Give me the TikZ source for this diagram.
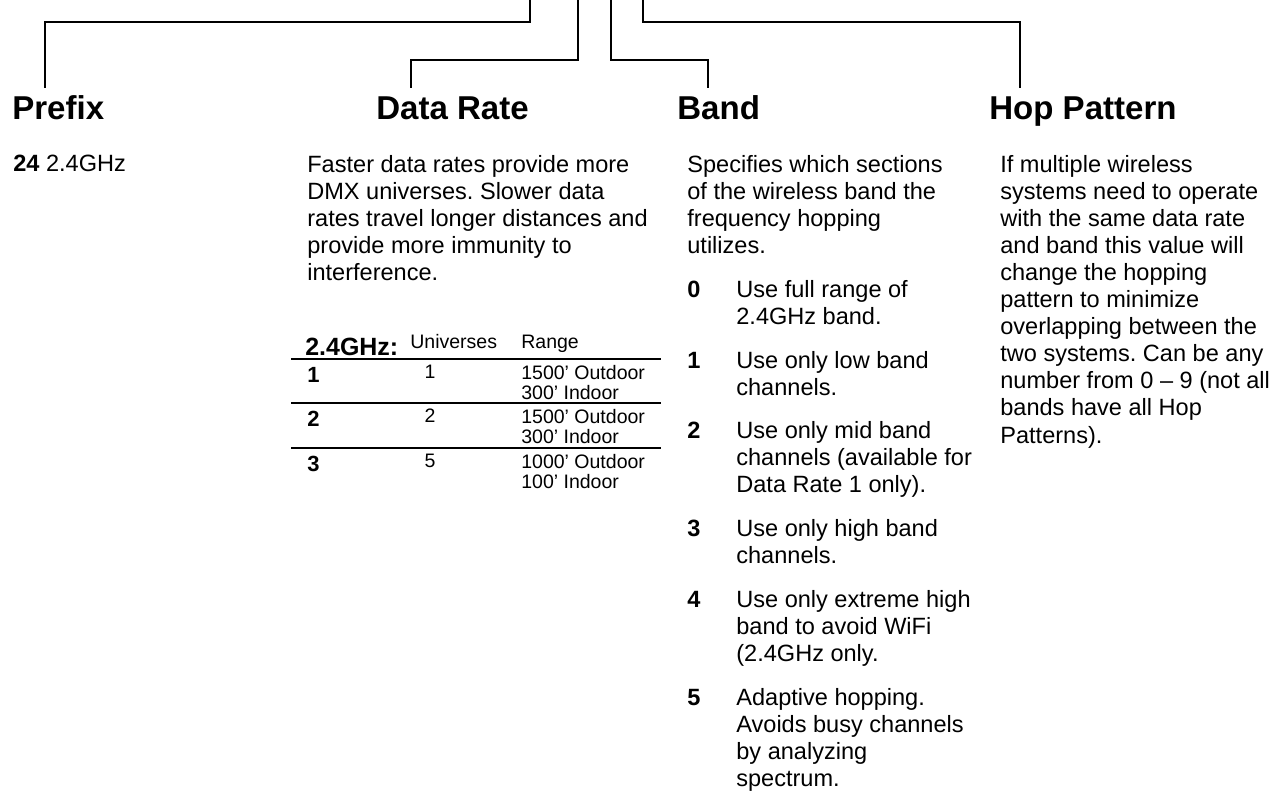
\documentclass[tikz,border=0pt]{standalone}
\usepackage{fontspec}
\setmainfont{Liberation Sans}
\usepackage{tikz}
\usetikzlibrary{positioning}
\frenchspacing

\begin{document}
\begin{tikzpicture}[
        lead/.style  = {line width=0.8pt},
        rule/.style  = {line width=1.0pt},
        title/.style = {anchor=base west, inner sep=0pt, font=\fontsize{18.8}{22}\selectfont\bfseries},
        body/.style  = {anchor=north west, inner sep=0pt, align=left, font=\fontsize{13.4}{15.4}\selectfont},
        num/.style   = {anchor=north west, inner sep=0pt, font=\fontsize{13.4}{15.4}\selectfont\bfseries},
        cell/.style  = {anchor=north west, inner sep=0pt, align=left, font=\fontsize{11.1}{11.4}\selectfont},
        small/.style = {anchor=base, inner sep=0pt, font=\fontsize{11.1}{11.4}\selectfont},
        rownum/.style= {anchor=base west, inner sep=0pt, font=\fontsize{12.5}{14}\selectfont\bfseries}
    ]
            \useasboundingbox (0.00, 0.00) rectangle (25.76,-15.92);

            % headings
            \node[title] (prefix)   at ( 0.24,-2.38) {Prefix};
            \node[title] (datarate) at ( 7.52,-2.38) {Data Rate};
            \node[title] (band)     at (13.54,-2.38) {Band};
            \node[title] (hop)      at (19.78,-2.38) {Hop Pattern};

            % leader lines from the part number
            \coordinate (prefix top)   at (10.60, 0.00);
            \coordinate (prefix foot)  at ( 0.90,-1.76);
            \coordinate (rate top)     at (11.56, 0.00);
            \coordinate (rate foot)    at ( 8.22,-1.76);
            \coordinate (band top)     at (12.22, 0.00);
            \coordinate (band foot)    at (14.16,-1.76);
            \coordinate (hop top)      at (12.86, 0.00);
            \coordinate (hop foot)     at (20.40,-1.76);
            \draw[lead] (prefix top) -- ++(0,-0.44) -| (prefix foot);
            \draw[lead] (rate top)   -- ++(0,-1.20) -| (rate foot);
            \draw[lead] (band top)   -- ++(0,-1.20) -| (band foot);
            \draw[lead] (hop top)    -- ++(0,-0.44) -| (hop foot);

            % column texts
            \node[body] (prefix text) at ( 0.26,-3.10) {\textbf{24} 2.4GHz};
            \node[body] (rate text)   at ( 6.14,-3.10) {Faster data rates provide more\\DMX universes. Slower data\\rates travel longer distances and\\provide more immunity to\\interference.};
            \node[body] (band text)   at (13.74,-3.10) {Specifies which sections\\of the wireless band the\\frequency hopping\\utilizes.};
            \node[body] (hop text)    at (20.00,-3.10) {If multiple wireless\\systems need to operate\\with the same data rate\\and band this value will\\change the hopping\\pattern to minimize\\overlapping between the\\two systems. Can be any\\number from 0 -- 9 (not all\\bands have all Hop\\Patterns).};

            % band values
            \node[num]  (b0)  at (13.74, -5.62) {0};
            \node[body] (b0t) at (14.72, -5.60) {Use full range of\\2.4GHz band.};
            \node[num]  (b1)  at (13.74, -7.04) {1};
            \node[body] (b1t) at (14.72, -7.02) {Use only low band\\channels.};
            \node[num]  (b2)  at (13.74, -8.44) {2};
            \node[body] (b2t) at (14.72, -8.42) {Use only mid band\\channels (available for\\Data Rate 1 only).};
            \node[num]  (b3)  at (13.74,-10.40) {3};
            \node[body] (b3t) at (14.72,-10.38) {Use only high band\\channels.};
            \node[num]  (b4)  at (13.74,-11.82) {4};
            \node[body] (b4t) at (14.72,-11.80) {Use only extreme high\\band to avoid WiFi\\(2.4GHz only.};
            \node[num]  (b5)  at (13.74,-13.78) {5};
            \node[body] (b5t) at (14.72,-13.76) {Adaptive hopping.\\Avoids busy channels\\by analyzing\\spectrum.};

            % data rate table
            \node[anchor=base west, inner sep=0pt, font=\fontsize{14.2}{16}\selectfont\bfseries] (ghz) at ( 6.10,-7.10) {2.4GHz:};
            \node[small, anchor=base west] (univ)  at ( 8.20,-6.96) {Universes};
            \node[small, anchor=base west] (range) at (10.42,-6.96) {Range};
            \draw[rule] ( 5.82,-7.18) -- (13.22,-7.18);
            \node[rownum] (r1)  at ( 6.14,-7.65) {1};
            \node[small]  (u1)  at ( 8.60,-7.57) {1};
            \node[cell]   (g1)  at (10.42,-7.29) {1500' Outdoor\\300' Indoor};
            \draw[rule] ( 5.82,-8.06) -- (13.22,-8.06);
            \node[rownum] (r2)  at ( 6.14,-8.53) {2};
            \node[small]  (u2)  at ( 8.60,-8.45) {2};
            \node[cell]   (g2)  at (10.42,-8.17) {1500' Outdoor\\300' Indoor};
            \draw[rule] ( 5.82,-8.96) -- (13.22,-8.96);
            \node[rownum] (r3)  at ( 6.14,-9.43) {3};
            \node[small]  (u3)  at ( 8.60,-9.35) {5};
            \node[cell]   (g3)  at (10.42,-9.07) {1000' Outdoor\\100' Indoor};
        \end{tikzpicture}
\end{document}
